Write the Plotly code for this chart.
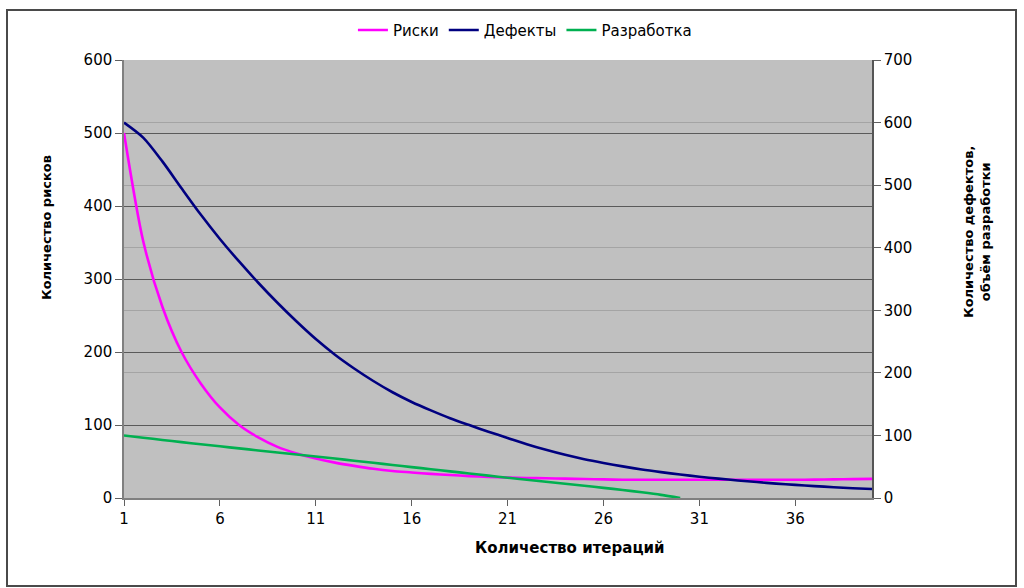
import plotly.graph_objects as go

# Iteration numbers (category axis 1..40)
iterations = list(range(1, 41))

# Risks, left axis
risks = [500, 352, 262, 200, 157, 124, 100, 83, 70, 61,
         54, 48.5, 44, 40, 37, 35, 33, 31.5, 30, 29,
         28, 27.5, 27, 26.5, 26, 25.5, 25, 25, 25, 25,
         25, 25, 25, 25, 25, 25, 25.2, 25.5, 25.8, 26.2]

# Defects, right axis
defects = [600, 576, 538, 495, 453, 414, 378, 344, 312, 282,
           254, 229, 207, 187, 169, 153.5, 140, 127.5, 116.5, 106,
           96, 86, 77, 69, 62, 56, 50.5, 45.5, 41.3, 37.5,
           34, 31, 28, 25.5, 23, 21, 19, 17.3, 15.7, 14.3]

# Development volume, right axis (reaches zero at iteration 30)
development = [100, 96.4, 92.8, 89.3, 85.9, 82.6, 79.3, 76, 72.7, 69.5,
               66.3, 63, 59.6, 56.2, 52.8, 49.4, 46, 42.6, 39.2, 35.8,
               32.4, 29.1, 25.9, 22.7, 19.5, 16.2, 12.8, 9.1, 5.0, 0]

x_ticks = [1, 6, 11, 16, 21, 26, 31, 36]
left_ticks = [0, 100, 200, 300, 400, 500, 600]
right_ticks = [0, 100, 200, 300, 400, 500, 600, 700]

FONT = "DejaVu Sans"

fig = go.Figure()
fig.add_trace(go.Scatter(
    x=iterations, y=risks, name="Риски", mode="lines",
    line=dict(color="#FF00FF", width=2.6, shape="spline", smoothing=0.8),
    yaxis="y"))
fig.add_trace(go.Scatter(
    x=iterations, y=defects, name="Дефекты", mode="lines",
    line=dict(color="#000080", width=2.6, shape="spline", smoothing=0.8),
    yaxis="y2"))
fig.add_trace(go.Scatter(
    x=iterations[:len(development)], y=development, name="Разработка", mode="lines",
    line=dict(color="#00B050", width=2.6, shape="spline", smoothing=0.8),
    yaxis="y2"))

fig.update_layout(
    width=1024, height=588,
    margin=dict(l=124, r=152, t=60, b=90),
    paper_bgcolor="white",
    plot_bgcolor="#C0C0C0",
    font=dict(family=FONT, size=15, color="black"),
    showlegend=True,
    legend=dict(orientation="h", x=0.536, xanchor="center", y=1.068, yanchor="middle",
                font=dict(family=FONT, size=15), bgcolor="rgba(0,0,0,0)",
                itemwidth=30, tracegroupgap=0),
    xaxis=dict(range=[1, 40], tickvals=x_ticks, ticktext=[str(v) for v in x_ticks],
               showgrid=False, zeroline=False, showline=True, linecolor="#808080",
               linewidth=1.5, ticks="outside", ticklen=6, tickcolor="#606060",
               tickfont=dict(family=FONT, size=15)),
    yaxis=dict(range=[0, 600], tickvals=left_ticks, showgrid=True,
               gridcolor="#5A5A5A", gridwidth=1.3, zeroline=False,
               showline=True, linecolor="#808080", linewidth=1.5,
               ticks="outside", ticklen=7, tickcolor="#606060",
               tickfont=dict(family=FONT, size=15)),
    yaxis2=dict(range=[0, 700], tickvals=right_ticks, overlaying="y", side="right",
                showgrid=True, gridcolor="#A4A4A4", gridwidth=1.3, zeroline=False,
                showline=True, linecolor="#555555", linewidth=1.5,
                ticks="outside", ticklen=7, tickcolor="#606060",
                tickfont=dict(family=FONT, size=15)),
)

# Axis titles
fig.add_annotation(text="<b>Количество итераций</b>", xref="paper", yref="paper",
                   x=(570 - 124) / 748, y=(498 - 548) / 438, showarrow=False,
                   font=dict(family=FONT, size=15), xanchor="center", yanchor="middle")
fig.add_annotation(text="<b>Количество рисков</b>", xref="paper", yref="paper",
                   x=(46 - 124) / 748, y=(498 - 228) / 438, showarrow=False,
                   textangle=-90, font=dict(family=FONT, size=13),
                   xanchor="center", yanchor="middle")
fig.add_annotation(text="<b>Количество дефектов,<br>объём разработки</b>",
                   xref="paper", yref="paper",
                   x=(977 - 124) / 748, y=(498 - 232) / 438, showarrow=False,
                   textangle=-90, font=dict(family=FONT, size=13),
                   xanchor="center", yanchor="middle")

# Chart frame
fig.add_shape(type="rect", xref="paper", yref="paper",
              x0=(7 - 124) / 748, x1=(1016 - 124) / 748,
              y0=(498 - 586) / 438, y1=(498 - 10) / 438,
              line=dict(color="#4A4A4A", width=2), fillcolor="rgba(0,0,0,0)",
              layer="below")

fig.write_html("out.html")
